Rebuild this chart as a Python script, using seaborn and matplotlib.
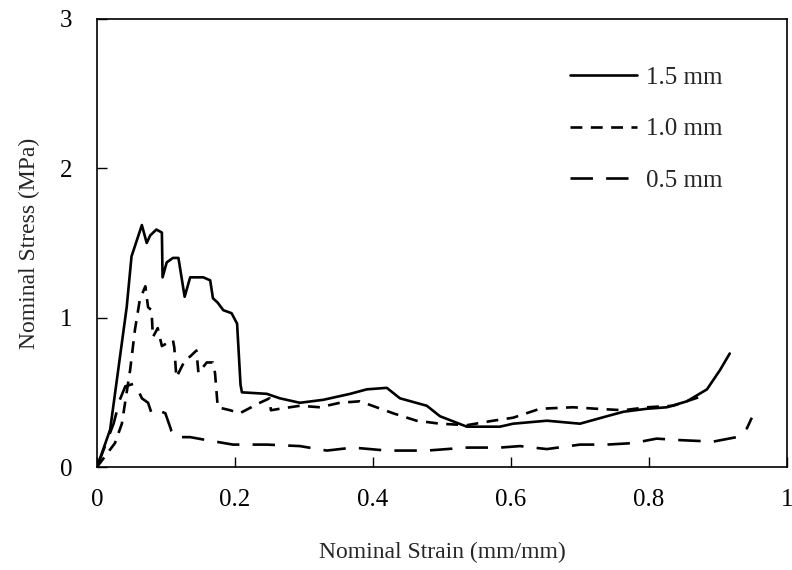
import numpy as np
import pandas as pd
import matplotlib
matplotlib.use("Agg")
import matplotlib.pyplot as plt
import seaborn as sns

# 1.5 mm specimen
strain_15 = [0.0, 0.019, 0.043, 0.050, 0.055, 0.065, 0.072, 0.077, 0.086, 0.094, 0.095, 0.101, 0.110,
             0.118, 0.127, 0.135, 0.154, 0.164, 0.168, 0.175, 0.183, 0.195, 0.203, 0.208, 0.210,
             0.246, 0.265, 0.294, 0.328, 0.367, 0.391, 0.420, 0.439, 0.478, 0.497, 0.536, 0.584,
             0.603, 0.652, 0.700, 0.739, 0.763, 0.797, 0.826, 0.855, 0.884, 0.903, 0.917]
stress_15 = [0.0, 0.25, 1.07, 1.41, 1.48, 1.62, 1.50, 1.55, 1.59, 1.57, 1.27, 1.37, 1.40,
             1.40, 1.14, 1.27, 1.27, 1.25, 1.13, 1.10, 1.05, 1.03, 0.96, 0.55, 0.50,
             0.49, 0.46, 0.43, 0.45, 0.49, 0.52, 0.53, 0.46, 0.41, 0.34, 0.27, 0.27,
             0.29, 0.31, 0.29, 0.34, 0.37, 0.39, 0.40, 0.44, 0.52, 0.65, 0.76]

# 1.0 mm specimen
strain_10 = [0.0, 0.026, 0.036, 0.048, 0.055, 0.062, 0.070, 0.074, 0.079, 0.081, 0.088, 0.094, 0.110,
             0.112, 0.115, 0.128, 0.135, 0.144, 0.147, 0.159, 0.168, 0.171, 0.175, 0.193, 0.207,
             0.236, 0.250, 0.252, 0.265, 0.294, 0.323, 0.352, 0.381, 0.405, 0.429, 0.463, 0.497,
             0.536, 0.574, 0.603, 0.642, 0.690, 0.724, 0.763, 0.797, 0.835, 0.874]
stress_10 = [0.0, 0.16, 0.29, 0.65, 0.92, 1.12, 1.21, 1.07, 1.05, 0.87, 0.93, 0.81, 0.85,
             0.80, 0.60, 0.72, 0.74, 0.78, 0.63, 0.70, 0.70, 0.63, 0.40, 0.38, 0.36,
             0.43, 0.46, 0.38, 0.39, 0.41, 0.40, 0.43, 0.44, 0.40, 0.36, 0.31, 0.29,
             0.28, 0.31, 0.33, 0.39, 0.40, 0.39, 0.38, 0.40, 0.41, 0.47]

# 0.5 mm specimen
strain_05 = [0.0, 0.024, 0.033, 0.041, 0.055, 0.065, 0.074, 0.079, 0.088, 0.099, 0.108, 0.115, 0.135,
             0.159, 0.197, 0.246, 0.294, 0.333, 0.371, 0.420, 0.478, 0.536, 0.584, 0.613, 0.652,
             0.700, 0.739, 0.777, 0.811, 0.845, 0.893, 0.927, 0.942, 0.949]
stress_05 = [0.0, 0.29, 0.45, 0.54, 0.56, 0.46, 0.43, 0.36, 0.38, 0.36, 0.24, 0.20, 0.20,
             0.18, 0.15, 0.15, 0.14, 0.11, 0.13, 0.11, 0.11, 0.13, 0.13, 0.14, 0.12,
             0.15, 0.15, 0.16, 0.19, 0.18, 0.17, 0.20, 0.26, 0.33]

labels = ["1.5 mm", "1.0 mm", "0.5 mm"]
x_ticks = [0, 0.2, 0.4, 0.6, 0.8, 1]
x_tick_labels = ["0", "0.2", "0.4", "0.6", "0.8", "1"]
y_ticks = [0, 1, 2, 3]
y_tick_labels = ["0", "1", "2", "3"]

df = pd.concat([
    pd.DataFrame({"strain": strain_15, "stress": stress_15, "t": labels[0]}),
    pd.DataFrame({"strain": strain_10, "stress": stress_10, "t": labels[1]}),
    pd.DataFrame({"strain": strain_05, "stress": stress_05, "t": labels[2]}),
], ignore_index=True)

sns.set_style("white")
plt.rcParams["font.family"] = ["Liberation Serif", "DejaVu Serif"]

fig = plt.figure(figsize=(7.92, 5.70), dpi=100)
ax = fig.add_axes([0.1225, 0.1807, 0.8712, 0.786])

sns.lineplot(data=df, x="strain", y="stress", hue="t", style="t",
             hue_order=labels, style_order=labels,
             palette={l: "black" for l in labels},
             dashes={labels[0]: "", labels[1]: (4.5, 3.2), labels[2]: (8.5, 5.0)},
             estimator=None, sort=False, linewidth=1.9, ax=ax)

ax.set_xlim(0, 1)
ax.set_ylim(0, 3)
ax.set_xticks(x_ticks)
ax.set_xticklabels(x_tick_labels)
ax.set_yticks(y_ticks)
ax.set_yticklabels(y_tick_labels)
ax.tick_params(direction="in", length=7, width=1, labelsize=18, colors="black", pad=16,
               bottom=True, left=True)
ax.tick_params(axis="y", pad=18)
for s in ax.spines.values():
    s.set_color("black")
    s.set_linewidth(1.2)

ax.set_xlabel("Nominal Strain (mm/mm)", fontsize=17, labelpad=22)
ax.set_ylabel("Nominal Stress (MPa)", fontsize=17, labelpad=14)

leg = ax.legend(loc="upper right", bbox_to_anchor=(0.939, 0.944), frameon=False,
                fontsize=18, handlelength=2.7, handletextpad=0.35, labelspacing=1.15)
for line in leg.get_lines():
    line.set_linewidth(1.9)

fig.savefig("out.png", dpi=100)
